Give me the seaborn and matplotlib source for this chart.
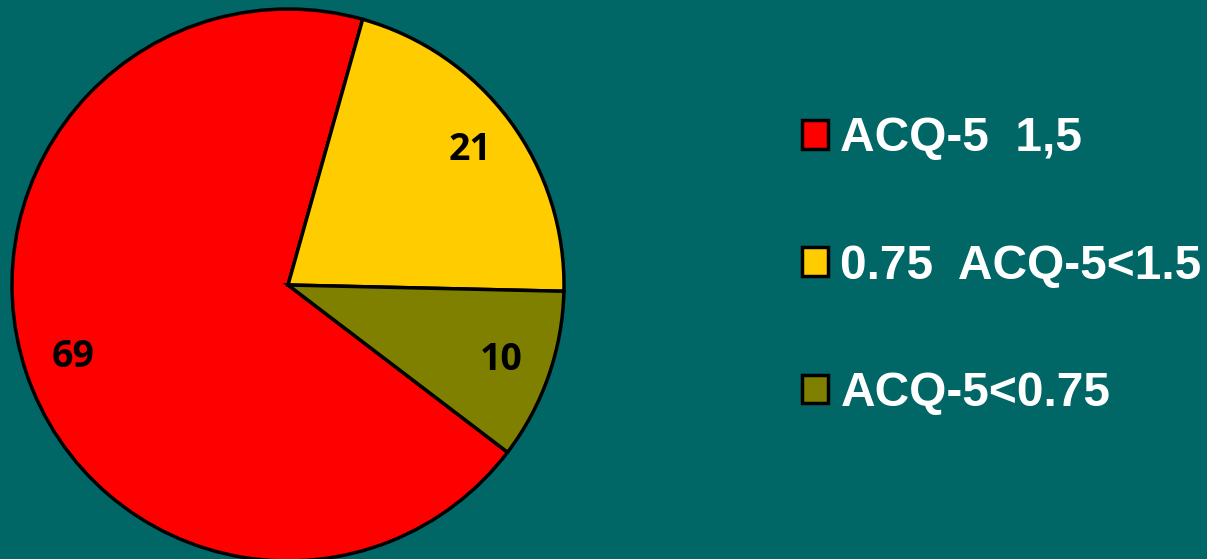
import matplotlib
matplotlib.use("Agg")
import matplotlib.pyplot as plt
import matplotlib.patches as mpatches
import seaborn as sns

# 데이터
categories = ["ACQ-5  1,5", "0.75  ACQ-5<1.5", "ACQ-5<0.75"]
values = [69, 21, 10]
colors = ["#FF0000", "#FFCC00", "#808000"]
bg = "#006666"

sns.set_theme(style="white")
plt.rcParams["font.family"] = ["Liberation Sans", "DejaVu Sans"]

fig = plt.figure(figsize=(12.07, 5.59), dpi=100, facecolor=bg)
ax = fig.add_axes([12 / 1207, (559 - 285 - 276) / 559, 552 / 1207, 552 / 559])
ax.set_facecolor(bg)

wedges, texts, autotexts = ax.pie(
    values,
    colors=colors,
    startangle=-37.3,
    counterclock=False,
    autopct=lambda p: f"{p:.0f}",
    pctdistance=0.82,
    wedgeprops=dict(edgecolor="black", linewidth=2.5),
)
for t in autotexts:
    t.set_fontfamily(["Open Sans", "DejaVu Sans"])
    t.set_fontsize(27)
    t.set_fontweight("bold")
    t.set_color("black")
for w in wedges:
    w.set_clip_on(False)
ax.set_xlim(-1, 1)
ax.set_ylim(-1, 1)
ax.set_aspect("equal")
ax.axis("off")

handles = [mpatches.Patch(facecolor=c, edgecolor="black", linewidth=2.5) for c in colors]
leg = fig.legend(
    handles, categories,
    loc="center left", bbox_to_anchor=(802 / 1207, 1 - 266 / 559),
    frameon=False, borderpad=0, borderaxespad=0,
    handlelength=0.55, handleheight=0.55, handletextpad=0.25,
    labelspacing=1.72,
    prop=dict(size=34.5, weight="bold"),
)
for t in leg.get_texts():
    t.set_color("white")

fig.savefig("out.png", dpi=100, facecolor=bg)
